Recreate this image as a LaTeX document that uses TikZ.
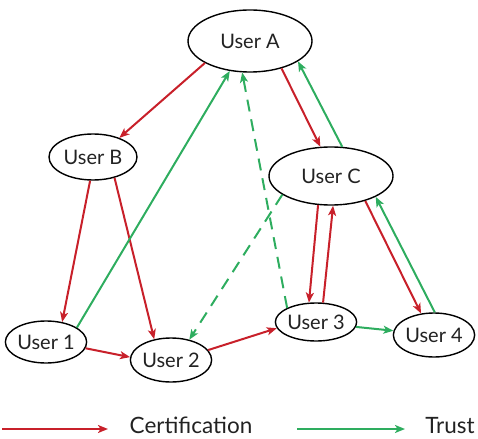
\documentclass[tikz,border=0pt]{standalone}
\usepackage{fontspec}
\setmainfont{Lato}
\usetikzlibrary{shapes.geometric,arrows.meta}
\definecolor{certred}{HTML}{C8202A}
\definecolor{trustgreen}{HTML}{2EAD5F}
\definecolor{ink}{HTML}{222222}
\begin{document}
\begin{tikzpicture}[x=1pt,y=-1pt,
  user/.style={ellipse,draw=black,line width=1.4pt,inner sep=0pt,text=ink,
    font=\fontsize{20}{24}\selectfont},
  tip/.style={-{Stealth[length=10pt,width=8pt,inset=2.5pt]}},
  cert/.style={tip,draw=certred,line width=2pt},
  trust/.style={tip,draw=trustgreen,line width=2pt},
  trustdash/.style={trust,dash pattern=on 12pt off 8pt},
  legendtext/.style={text=ink,inner sep=0pt,anchor=base,
    font=\fontsize{22.5}{26}\selectfont}]
\useasboundingbox (0,0) rectangle (478,438);

% users
\node[user,minimum width=124pt,minimum height=62pt] (A) at (250,41) {User A};
\node[user,minimum width=88pt,minimum height=46pt] (B) at (93,157) {User B};
\node[user,minimum width=124pt,minimum height=58pt] (C) at (331,176) {User C};
\node[user,minimum width=78pt,minimum height=42pt] (U1) at (46,342) {User 1};
\node[user,minimum width=80pt,minimum height=44pt] (U2) at (171,360) {User 2};
\node[user,minimum width=78pt,minimum height=38pt] (U3) at (316,322) {User 3};
\node[user,minimum width=78pt,minimum height=44pt] (U4) at (434,335) {User 4};

% certification edges
\draw[cert] (A.206) -- (B.36);
\draw[cert] (A.-41) -- (C.110);
\draw[cert] (B.-97) -- (U1.51);
\draw[cert] (B.-44) -- (U2.129);
\draw[cert] (U1.-9) -- (U2.176);
\draw[cert] (U2.15) -- (U3.189);
\draw[cert] (C.-114) -- (U3.110);
\draw[cert] (U3.70) -- (C.-86);
\draw[cert] (C.-36) -- (U4.121);

% trust edges
\draw[trust] (C.69) -- (A.-23);
\draw[trust] (U1.25) -- (A.-124);
\draw[trust] (U3.-7) -- (U4.174);
\draw[trust] (U4.88) -- (C.-25);
\draw[trustdash] (U3.154) -- (A.-104);
\draw[trustdash] (C.201) -- (U2.48);

% legend
\coordinate (r0) at (2,429);
\coordinate (r1) at (108,429);
\coordinate (g0) at (297,429);
\coordinate (g1) at (405,429);
\draw[cert,line width=1.8pt] (r0) -- (r1);
\node[legendtext] (lc) at (191,433) {Certification};
\draw[trust,line width=1.8pt] (g0) -- (g1);
\node[legendtext] (lt) at (450,433) {Trust};
\end{tikzpicture}
\end{document}
